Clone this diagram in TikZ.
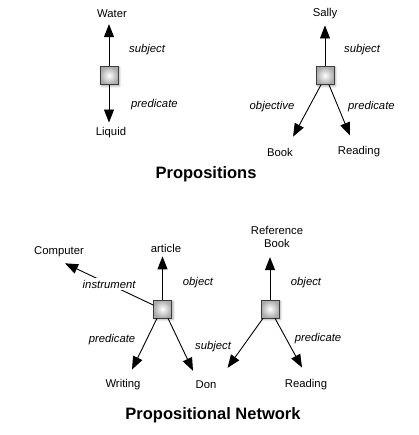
\documentclass[tikz,border=0pt]{standalone}
\usepackage{fontspec}
\setmainfont{Liberation Sans}
\usepackage{tikz}
\usetikzlibrary{arrows.meta,shadows.blur}
\definecolor{boxgray}{RGB}{170,170,170}
\definecolor{edgegray}{RGB}{60,60,60}

\begin{document}
\begin{tikzpicture}[x=1pt,y=-1pt,
    word/.style={font=\fontsize{11.3}{13.5}\selectfont, inner sep=1pt},
    role/.style={font=\fontsize{11.3}{13.5}\selectfont\itshape, inner sep=1pt},
    title/.style={font=\fontsize{16.5}{19}\selectfont\bfseries},
    prop/.style={draw=edgegray, line width=0.6pt, minimum size=18pt, inner sep=0pt,
      inner color=white, outer color=boxgray,
      blur shadow={shadow xshift=1.5pt, shadow yshift=-1.5pt, shadow blur steps=4, shadow opacity=35}},
    link/.style={line width=0.9pt, -{Triangle[length=13pt,width=10pt]}}]
  \useasboundingbox (0,0) rectangle (418,435);

  % Propositions
  \node[word] (water) at (112,14) {Water};
  \node[prop] (p1) at (109,75.5) {};
  \node[word] (liquid) at (111,133) {Liquid};
  \draw[link, shorten >=5pt] (p1.north) -- (p1.north |- water.south);
  \draw[link, shorten >=4pt] (p1.south) -- (p1.south |- liquid.north);
  \node[role, anchor=west] at (128,50) {subject};
  \node[role, anchor=west] at (130,105) {predicate};

  \node[word] (sally) at (325,14) {Sally};
  \node[prop] (p2) at (325,75.5) {};
  \node[word] (book) at (280,152) {Book};
  \node[word] (reading1) at (359,152) {Reading};
  \draw[link, shorten >=5pt] (p2.north) -- (p2.north |- sally.south);
  \draw[link] ([xshift=-4pt]p2.south) -- ([shift={(-1pt,10pt)}]book.north east);
  \draw[link] ([xshift=4pt]p2.south) -- ([shift={(-9pt,10pt)}]reading1.north);
  \node[role, anchor=west] at (343,50) {subject};
  \node[role] at (272,107) {objective};
  \node[role, anchor=west] at (347,107) {predicate};

  \node[title] at (206,174) {Propositions};

  % Propositional Network
  \node[word] (article) at (166,248) {article};
  \node[word] (computer) at (59,252) {Computer};
  \node[prop] (p3) at (162.5,309) {};
  \node[word] (writing) at (123,385) {Writing};
  \node[word] (don) at (206,385) {Don};
  \draw[link, shorten >=3pt] (p3.north) -- (p3.north |- article.south);
  \draw[link] ([yshift=4pt]p3.west) -- ([shift={(6pt,-5pt)}]computer.south)
    node[role, pos=0.5, fill=white, inner sep=2pt] {instrument};
  \draw[link] ([xshift=-5.5pt]p3.south) -- ([shift={(9pt,9pt)}]writing.north);
  \draw[link] ([xshift=5.5pt]p3.south) -- ([shift={(-13pt,9pt)}]don.north);
  \node[role] at (198,283) {object};
  \node[role] at (112,340) {predicate};
  \node[role] at (213,347) {subject};

  \node[word, align=center] (refbook) at (277,237) {Reference\\Book};
  \node[prop] (p4) at (270,309) {};
  \node[word] (reading2) at (306,385) {Reading};
  \draw[link, shorten >=8pt] (p4.north) -- (p4.north |- refbook.south);
  \draw[link] ([xshift=-7pt]p4.south) -- ([shift={(10pt,12pt)}]don.north east);
  \draw[link] ([xshift=5pt]p4.south) -- ([shift={(-4pt,11pt)}]reading2.north);
  \node[role] at (306,283) {object};
  \node[role] at (318,339) {predicate};

  \node[title] at (213,415) {Propositional Network};
\end{tikzpicture}
\end{document}
